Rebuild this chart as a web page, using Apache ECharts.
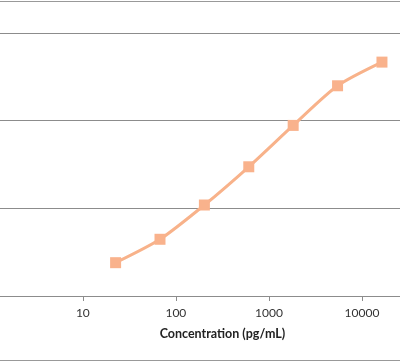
<!DOCTYPE html>
<html>
<head>
<meta charset="utf-8">
<script src="https://cdn.jsdelivr.net/npm/echarts@6/dist/echarts.min.js"></script>
<style>html,body{margin:0;padding:0;background:#fff;}#c{width:400px;height:362px;}</style>
</head>
<body>
<div id="c"></div>
<script>
var concentrations = [22.5, 67.5, 202.5, 607.5, 1822.5, 5467.5, 16402.5];
var responses = [0.38, 0.647, 1.038, 1.474, 1.946, 2.398, 2.668];
var xTickLabels = ['1', '10', '100', '1000', '10000', '100000'];
var xAxisTitle = 'Concentration (pg/mL)';

var chart = echarts.init(document.getElementById('c'), null, {renderer: 'canvas'});
var pts = concentrations.map(function (c, i) { return [c, responses[i]]; });
chart.setOption({
  animation: false,
  backgroundColor: '#ffffff',
  grid: {left: -10.2, right: -55, top: 33, bottom: 66, containLabel: false, outerBoundsMode: 'none'},
  xAxis: {
    type: 'log', logBase: 10, min: 1, max: 100000,
    name: xAxisTitle, nameLocation: 'middle', nameGap: 31,
    nameTextStyle: {fontFamily: 'Lato', fontWeight: 'bold', fontSize: 12.5, color: '#222'},
    axisLine: {show: true, lineStyle: {color: '#8c8c8c', width: 1}},
    axisTick: {show: true, length: 5, inside: false, lineStyle: {color: '#8c8c8c'}},
    minorTick: {show: false},
    splitLine: {show: false},
    axisLabel: {fontFamily: 'Lato', fontSize: 12, color: '#333', margin: 11,
      formatter: function (v) { var i = Math.round(Math.log10(v)); return xTickLabels[i] || ''; }}
  },
  yAxis: {
    type: 'value', min: 0, max: 3, interval: 1,
    axisLine: {show: false}, axisTick: {show: false}, axisLabel: {show: false},
    splitLine: {show: true, lineStyle: {color: '#8c8c8c', width: 1}}
  },
  graphic: [
    {type: 'line', shape: {x1: 0, y1: 1.5, x2: 400, y2: 1.5}, style: {stroke: '#999', lineWidth: 1}},
    {type: 'line', shape: {x1: 0, y1: 360.5, x2: 400, y2: 360.5}, style: {stroke: '#999', lineWidth: 1}}
  ],
  series: [{
    type: 'line', data: pts, smooth: 0.25,
    symbol: 'rect', symbolSize: 11,
    lineStyle: {color: '#f8b28a', width: 3},
    itemStyle: {color: '#f9b28c'}
  }]
});
</script>
</body>
</html>
